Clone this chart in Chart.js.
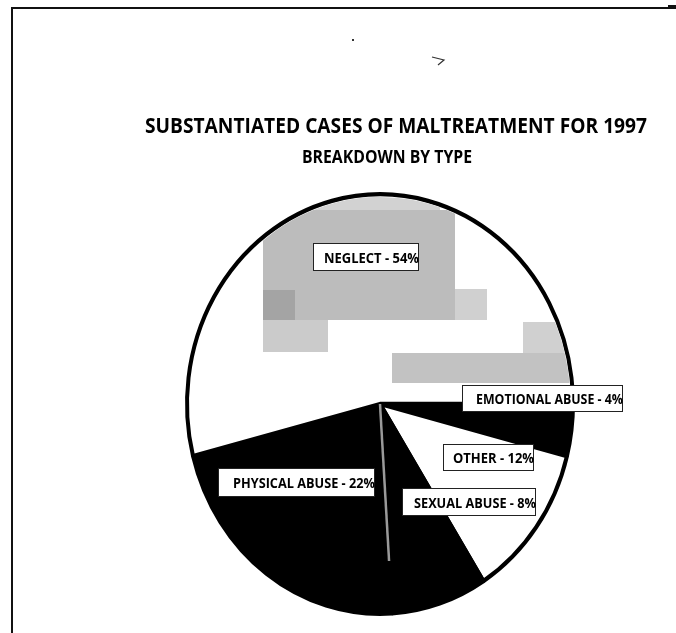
<!DOCTYPE html>
<html><head><meta charset="utf-8">
<script src="https://cdn.jsdelivr.net/npm/chart.js@4.4.0/dist/chart.umd.min.js"></script>
<style>html,body{margin:0;padding:0;background:#fff;}#wrap{width:676px;height:633px;position:relative;}</style>
</head><body><div id="wrap"><canvas id="c" width="676" height="633"></canvas></div>
<script>
// ---- data ----
const categories = ['EMOTIONAL ABUSE', 'OTHER', 'SEXUAL ABUSE', 'PHYSICAL ABUSE', 'NEGLECT'];
const percentages = [4, 12, 8, 22, 54];
const sliceColors = ['#000000', '#ffffff', '#000000', '#000000', '#ffffff'];
const titleText = 'SUBSTANTIATED CASES OF MALTREATMENT FOR 1997';
const subtitleText = 'BREAKDOWN BY TYPE';
const sliceLabels = categories.map((c, i) => c + ' - ' + percentages[i] + '%');

// ---- style / layout ----
const SY = 1.087; // scanned pie is slightly taller than wide
const FONT = '"Open Sans", "Noto Sans", sans-serif';
const labelBoxes = [
  {dx: 82, dy: -19, w: 161, h: 27, inset: 14},
  {dx: 63, dy: 40, w: 91, h: 27, inset: 10},
  {dx: 22, dy: 84, w: 134, h: 28, inset: 12},
  {dx: -162, dy: 64, w: 157, h: 29, inset: 15},
  {dx: -67, dy: -161, w: 106, h: 28, inset: 11}
];
const patches = [
  {dx: -80, dy: -215, w: 140, h: 22, c: '#d2d2d2'},
  {dx: -117, dy: -194, w: 192, h: 110, c: '#bcbcbc'},
  {dx: -117, dy: -114, w: 32, h: 30, c: '#a4a4a4'},
  {dx: -117, dy: -84, w: 65, h: 32, c: '#cbcbcb'},
  {dx: 75, dy: -115, w: 32, h: 31, c: '#d0d0d0'},
  {dx: 143, dy: -82, w: 60, h: 31, c: '#d0d0d0'},
  {dx: 12, dy: -51, w: 190, h: 30, c: '#c2c2c2'}
];

function fitText(ctx, text, x, y, targetW, font) {
  ctx.font = font;
  const w = ctx.measureText(text).width;
  ctx.save();
  ctx.translate(x, y);
  ctx.scale(targetW / w, 1);
  ctx.fillText(text, 0, 0);
  ctx.restore();
}

const scanPlugin = {
  id: 'scan',
  beforeDraw(chart) {
    const ctx = chart.ctx;
    ctx.save();
    ctx.fillStyle = '#fff';
    ctx.fillRect(0, 0, chart.width, chart.height);
    ctx.fillStyle = '#111';
    ctx.fillRect(11, 7, 2, chart.height - 7);
    ctx.fillRect(11, 7, chart.width - 11, 2);
    ctx.fillRect(668, 5, 8, 4);
    ctx.fillStyle = '#333';
    ctx.fillRect(352, 39, 2, 2);
    ctx.strokeStyle = '#333';
    ctx.lineWidth = 1.2;
    ctx.beginPath();
    ctx.moveTo(432, 57); ctx.lineTo(444, 60); ctx.lineTo(438, 65);
    ctx.stroke();
    ctx.restore();
  },
  beforeDatasetsDraw(chart) {
    const arc = chart.getDatasetMeta(0).data[0];
    const ctx = chart.ctx;
    ctx.save();
    ctx.translate(arc.x, arc.y);
    ctx.scale(1, SY);
    ctx.translate(-arc.x, -arc.y);
  },
  afterDatasetsDraw(chart) {
    const ctx = chart.ctx;
    ctx.restore();
    const meta = chart.getDatasetMeta(0);
    const cx = meta.data[0].x, cy = meta.data[0].y;
    // halftone patches of the scan inside the neglect slice
    const ng = meta.data[4];
    ctx.save();
    ctx.translate(cx, cy); ctx.scale(1, SY); ctx.translate(-cx, -cy);
    ctx.beginPath();
    ctx.moveTo(cx, cy);
    ctx.arc(cx, cy, ng.outerRadius - 2.5, ng.startAngle + 0.02, ng.endAngle - 0.01);
    ctx.closePath();
    ctx.clip();
    ctx.setTransform(1, 0, 0, 1, 0, 0);
    patches.forEach(p => { ctx.fillStyle = p.c; ctx.fillRect(cx + p.dx, cy + p.dy, p.w, p.h); });
    ctx.restore();
    // grey seam between sexual and physical abuse
    const sx = meta.data[2];
    ctx.save();
    ctx.strokeStyle = '#9a9a9a';
    ctx.lineWidth = 2.5;
    ctx.beginPath();
    ctx.moveTo(cx, cy);
    const r = sx.outerRadius * 0.75;
    ctx.lineTo(cx + Math.cos(sx.endAngle) * r, cy + Math.sin(sx.endAngle) * r * SY);
    ctx.stroke();
    ctx.restore();
    // label boxes
    ctx.save();
    ctx.textBaseline = 'alphabetic';
    sliceLabels.forEach((t, i) => {
      const b = labelBoxes[i];
      const x = cx + b.dx, y = cy + b.dy;
      ctx.fillStyle = '#fff';
      ctx.fillRect(x, y, b.w, b.h);
      ctx.strokeStyle = '#222';
      ctx.lineWidth = 1;
      ctx.strokeRect(x + 0.5, y + 0.5, b.w - 1, b.h - 1);
      ctx.save();
      ctx.beginPath(); ctx.rect(x, y - 2, b.w + 1, b.h + 4); ctx.clip();
      ctx.fillStyle = '#000';
      fitText(ctx, t, x + b.inset, y + b.h / 2 + 5.5, b.w - b.inset, 'bold 15px ' + FONT);
      ctx.restore();
    });
    ctx.restore();
  },
  afterDraw(chart) {
    const ctx = chart.ctx;
    ctx.save();
    ctx.fillStyle = '#000';
    ctx.textBaseline = 'alphabetic';
    fitText(ctx, titleText, 145, 133, 502, 'bold 21px ' + FONT);
    fitText(ctx, subtitleText, 302, 163, 170, 'bold 17px ' + FONT);
    ctx.restore();
  }
};

new Chart(document.getElementById('c'), {
  type: 'pie',
  data: {
    labels: categories,
    datasets: [{
      data: percentages,
      backgroundColor: sliceColors,
      borderColor: '#000',
      borderWidth: 4,
      hoverBorderWidth: 4,
      hoverOffset: 0
    }]
  },
  options: {
    responsive: false,
    devicePixelRatio: 1,
    animation: false,
    rotation: 90,
    radius: 193,
    layout: {padding: {left: 84, right: 0, top: 175, bottom: 0}},
    plugins: {legend: {display: false}, tooltip: {enabled: false}, title: {display: false}}
  },
  plugins: [scanPlugin]
});
</script>
</body></html>
